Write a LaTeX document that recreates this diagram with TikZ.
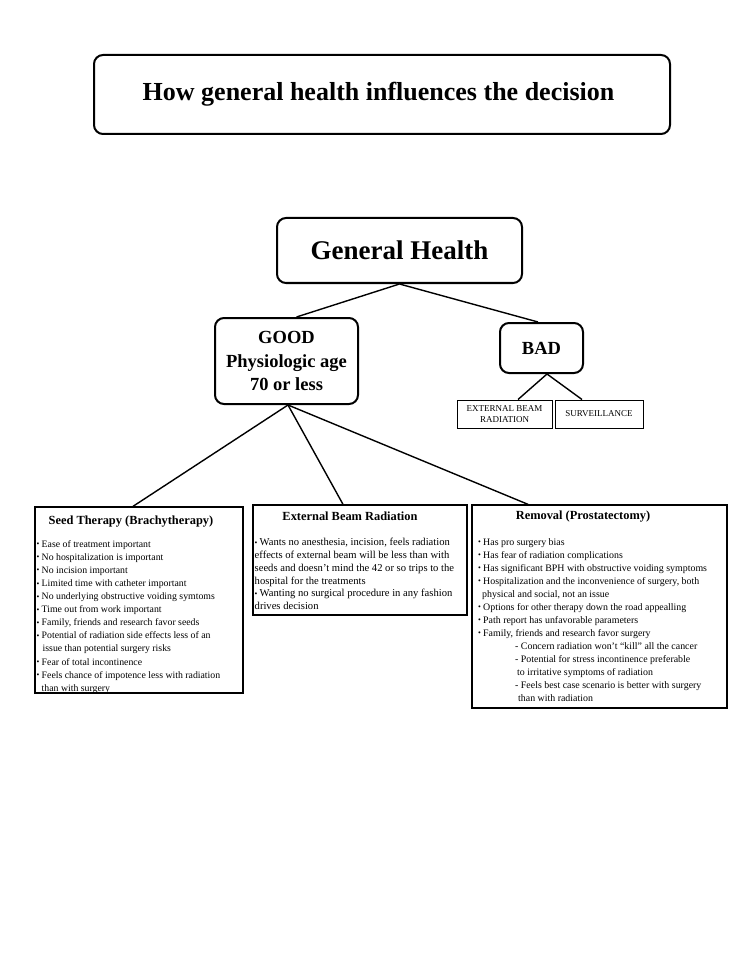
\documentclass[tikz,border=0pt]{standalone}
\usepackage{fontspec}
\setmainfont{Liberation Serif}
\usetikzlibrary{calc}
\newcommand\myb{\raisebox{0.4pt}{\fontsize{8}{6}\selectfont\textbullet}\hspace{2.2pt}}
\begin{document}
\begin{tikzpicture}[x=1pt,y=-1pt,
  thickbox/.style={draw, line width=2pt, rounded corners=9pt, inner sep=0pt},
  listbox/.style={draw, line width=1.3pt, inner sep=0pt},
  smallbox/.style={draw, line width=1pt, inner sep=0pt, align=center, font=\fontsize{9}{11}\selectfont},
  conn/.style={line width=1.4pt},
  head/.style={inner sep=0pt, font=\bfseries\fontsize{12.4}{15}\selectfont},
  body/.style={anchor=north west, inner sep=0pt, align=left}]
\useasboundingbox (0,0) rectangle (740,957);
\fill[white] (0,0) rectangle (740,957);

\node[thickbox, minimum width=576pt, minimum height=79pt, font=\bfseries\fontsize{26}{30}\selectfont] (title) at (382,94.5) {How general health influences the decision\hspace*{7pt}};

\node[thickbox, minimum width=245pt, minimum height=65pt, font=\bfseries\fontsize{27}{32}\selectfont] (gh) at (399.5,250.5) {General Health};

\node[thickbox, minimum width=143pt, minimum height=86pt, align=center, font=\bfseries\fontsize{18.5}{23.5}\selectfont] (good) at (286.5,361) {GOOD\\Physiologic age\\70 or less};

\node[thickbox, minimum width=83pt, minimum height=50pt, font=\bfseries\fontsize{18.5}{23}\selectfont] (bad) at (541.5,348) {BAD};

\node[smallbox, minimum width=95pt, minimum height=28pt] (ebrs) at (504.5,414) {EXTERNAL BEAM\\RADIATION};
\node[smallbox, minimum width=88pt, minimum height=28pt] (surv) at (599,414) {SURVEILLANCE};

\node[listbox, minimum width=208pt, minimum height=186pt] (seed) at (139,600) {};
\node[listbox, minimum width=214pt, minimum height=110pt] (ebr) at (360,560) {};
\node[listbox, minimum width=255pt, minimum height=203pt] (rem) at (599.5,606.5) {};

\node[head] (seedh) at (131,521.5) {Seed Therapy (Brachytherapy)};
\node[head] (ebrh) at (350,516.5) {External Beam Radiation};
\node[head] (remh) at (583,516.5) {Removal (Prostatectomy)};

\node[body, font=\fontsize{9.8}{13.1}\selectfont] (seedt) at (36.5,540) {%
\myb Ease of treatment important\\
\myb No hospitalization is important\\
\myb No incision important\\
\myb Limited time with catheter important\\
\myb No underlying obstructive voiding symtoms\\
\myb Time out from work important\\
\myb Family, friends and research favor seeds\\
\myb Potential of radiation side effects less of an\\
\hspace*{6pt}issue than potential surgery risks\\
\myb Fear of total incontinence\\
\myb Feels chance of impotence less with radiation\\
\hspace*{5pt}than with surgery};

\node[body, font=\fontsize{10.6}{12.8}\selectfont] (ebrt) at (254.5,538) {%
\myb Wants no anesthesia, incision, feels radiation\\
effects of external beam will be less than with\\
seeds and doesn’t mind the 42 or so trips to the\\
hospital for the treatments\\
\myb Wanting no surgical procedure in any fashion\\
drives decision};

\node[body, font=\fontsize{9.9}{13}\selectfont] (remt) at (478,538.3) {%
\myb Has pro surgery bias\\
\myb Has fear of radiation complications\\
\myb Has significant BPH with obstructive voiding symptoms\\
\myb Hospitalization and the inconvenience of surgery, both\\
\hspace*{4pt}physical and social, not an issue\\
\myb Options for other therapy down the road appealling\\
\myb Path report has unfavorable parameters\\
\myb Family, friends and research favor surgery\\
\hspace*{37pt}- Concern radiation won’t “kill” all the cancer\\
\hspace*{37pt}- Potential for stress incontinence preferable\\
\hspace*{39pt}to irritative symptoms of radiation\\
\hspace*{37pt}- Feels best case scenario is better with surgery\\
\hspace*{40pt}than with radiation};

\draw[conn] (gh.south) -- ([xshift=10pt]good.north);
\draw[conn] (gh.south) -- ([xshift=-3.5pt]bad.north);
\draw[conn] ([xshift=1.5pt]good.south) -- ([xshift=-6pt]seed.north);
\draw[conn] ([xshift=1.5pt]good.south) -- ([xshift=-17pt]ebr.north);
\draw[conn] ([xshift=1.5pt]good.south) -- ([xshift=-71.5pt]rem.north);
\draw[conn] ([xshift=5.5pt]bad.south) -- ([xshift=13.5pt]ebrs.north);
\draw[conn] ([xshift=5.5pt]bad.south) -- ([xshift=-17pt]surv.north);
\end{tikzpicture}
\end{document}
